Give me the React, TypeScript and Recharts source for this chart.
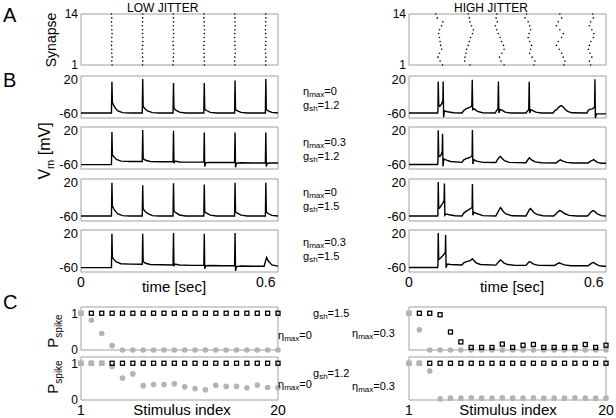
import React from 'react';
import { ComposedChart, Line, Scatter, XAxis, YAxis, ReferenceArea } from 'recharts';

const FONT = '"Liberation Sans", Arial, Helvetica, sans-serif';
const FRAME = '#a0a0a0';
const GRAY = '#b3b3b3';

// ---------- Panel A : raster ----------
const stimTimes = [0.1, 0.2, 0.3, 0.4, 0.5, 0.6];
const synapseIds = [1, 2, 3, 4, 5, 6, 7, 8, 9, 10, 11, 12, 13, 14];
const synapseTicks = [1, 14];
// jitter in ms, one row per stimulus, one value per synapse (1..14)
const lowJitterMs = [
  [1, 0, 1, 0, 0, -1, 0, 0, 1, 0, 0, -1, 0, -1],
  [0, 1, 0, 0, -1, 0, 1, 1, 0, 0, -1, 0, 0, 1],
  [-1, 0, 0, 1, 0, 0, -1, 0, 1, 0, 0, 1, 0, 0],
  [1, 1, 0, 0, -1, -1, 0, 0, 1, 1, 0, 0, -1, 0],
  [0, -1, 0, 1, 1, 0, 0, -1, 0, 0, 1, 0, 0, -1],
  [0, 0, 1, 0, -1, 0, 0, 1, 0, -1, 0, 0, 1, 0],
];
const highJitterMs = [
  [9, 1, -6, -1, 6, 3, 1, -1, -4, -1, 6, 10, -8, -13],
  [-2, -19, -18, -15, -13, -8, -4, 0, 6, 9, 3, -2, -4, -8],
  [9, -1, -6, 2, 9, 7, 1, -4, -10, -15, -20, -13, -17, -15],
  [6, 9, 0, -8, -5, -2, -8, -13, -10, -5, -8, -13, -23, -18],
  [4, 7, 1, -4, -12, -21, -15, -4, 1, -10, -21, -15, -4, -10],
  [-10, -14, -6, -12, -17, -14, -9, -1, 1, -6, -14, -10, -1, -3],
];

// ---------- Panel B : voltage traces [ms, mV] ----------
const timeTicks = [0, 0.6];
const vmTicks = [-60, 20];
const lowEta0G12: [number, number][] = [
  [0, -60], [99, -60], [100.5, 15], [102, -35], [106, -41], [112, -49], [120, -55], [135, -59], [160, -60],
  [199, -60], [200.5, 22], [202, -44], [207, -49], [216, -55], [232, -59], [255, -60],
  [299, -60], [300.5, 12], [302, -49], [308, -53], [320, -58], [340, -60],
  [399, -60], [400.5, 12], [402, -51], [408, -54], [420, -58.5], [440, -60],
  [499, -60], [500.5, 18], [502, -52], [508, -55], [520, -58.5], [540, -60],
  [599, -60], [600.5, 22], [602, -52], [608, -55], [620, -58.5], [640, -60],
];
const lowEta03G12: [number, number][] = [
  [0, -61.5], [99, -61.5], [100.5, 17], [102, -38], [106, -42], [115, -49], [130, -53], [160, -54],
  [199, -54], [200.5, 22], [202, -47], [210, -51], [225, -54], [260, -54.5],
  [299, -54.5], [300.5, 20], [302, -58], [305, -53], [320, -55], [360, -55.5],
  [399, -55.5], [400.5, 16], [402, -66], [405, -57], [420, -56], [460, -56.5],
  [499, -56.5], [500.5, 16], [502, -68], [505, -58], [520, -57], [560, -57.5],
  [599, -57.5], [600.5, 16], [602, -66], [605, -58], [620, -57.5], [640, -57.5],
];
const lowEta0G15: [number, number][] = [
  [0, -60], [99, -60], [100.5, 20], [102, -36], [106, -42], [112, -49], [120, -55], [135, -59], [160, -60],
  [199, -60], [200.5, 14], [202, -43], [207, -48], [216, -54], [232, -59], [255, -60],
  [299, -60], [300.5, 19], [302, -48], [308, -52], [320, -57.5], [340, -60],
  [399, -60], [400.5, 16], [402, -50], [408, -53], [420, -58], [440, -60],
  [499, -60], [500.5, 20], [502, -50], [508, -53], [520, -58], [540, -60],
  [599, -60], [600.5, 20], [602, -50], [608, -54], [620, -58.5], [640, -60],
];
const lowEta03G15: [number, number][] = [
  [0, -61.5], [99, -61.5], [100.5, 20], [102, -36], [106, -41], [115, -48], [130, -52], [160, -53],
  [199, -53.5], [200.5, 20], [202, -47], [210, -51], [225, -54], [260, -54.5],
  [299, -55], [300.5, 22], [302, -58], [305, -53], [320, -55], [360, -56],
  [399, -56], [400.5, 20], [402, -64], [405, -57], [420, -56.5], [460, -57],
  [499, -57], [500.5, 22], [502, -69], [505, -59], [520, -57.5], [560, -58],
  [595, -58], [600, -44], [603, -37], [608, -45], [620, -55], [640, -58],
];
const highEta0G12: [number, number][] = [
  [0, -60], [93, -60], [94, -55], [95, 16], [96.5, -40], [100, -44], [106, -38], [110, -30], [111, 16],
  [112.5, -70], [115, -55], [125, -57], [145, -59.5], [172, -60], [178, -54], [185, -50], [192, -48],
  [198, -46], [204, -44], [205.5, 20], [207, -52], [212, -50], [222, -56], [240, -59.5], [280, -60],
  [284, -55], [289, -50], [290.5, 16], [292, -60], [296, -52], [302, -53], [312, -58], [330, -60],
  [380, -60], [385, -55], [389, -52], [390.5, 15], [392, -60], [396, -52], [402, -54], [412, -58],
  [430, -60], [468, -60], [474, -54], [480, -52], [485, -47], [490, -44], [495, -42], [500, -45],
  [507, -51], [515, -56], [530, -59.5], [578, -60], [582, -54], [588, -51], [595, -50], [600, -48],
  [603, -45], [604, 21], [605.5, -72], [609, -62], [640, -62],
];
const highEta03G12: [number, number][] = [
  [0, -61], [93, -61], [94, -55], [95, 21], [96.5, -40], [100, -42], [106, -36], [108, -30], [109, 13],
  [110.5, -66], [113, -48], [120, -50], [135, -54], [172, -56], [178, -50], [186, -47], [195, -45],
  [202, -42], [205, -40], [206, 22], [207.5, -60], [211, -50], [220, -53], [240, -56], [282, -56.5],
  [287, -50], [292, -45], [297, -42], [302, -46], [310, -52], [325, -56], [380, -57], [385, -51],
  [391, -45], [398, -50], [410, -55], [430, -57], [478, -57.5], [485, -53], [492, -50], [500, -53],
  [512, -56], [535, -57.5], [582, -57.5], [590, -53], [596, -51], [600, -49], [604, -52], [612, -56],
  [625, -58], [640, -58],
];
const highEta0G15: [number, number][] = [
  [0, -60], [93, -60], [94, -55], [95, 22], [96.5, -42], [100, -40], [106, -33], [111, -28], [114, -22],
  [115, 18], [116.5, -58], [120, -55], [130, -57], [150, -59.5], [172, -60], [178, -53], [185, -49],
  [192, -46], [198, -43], [203, -41], [205, -38], [206, 17], [207.5, -58], [211, -51], [220, -54],
  [240, -59], [282, -60], [288, -52], [293, -45], [297, -40], [300, -42], [306, -49], [315, -55],
  [335, -59.5], [380, -60], [385, -53], [390, -46], [394, -42], [397, -44], [405, -51], [415, -56],
  [435, -59.5], [470, -60], [477, -55], [484, -50], [490, -47], [496, -49], [505, -54], [520, -58.5],
  [545, -60], [580, -60], [586, -55], [592, -50], [598, -47], [603, -49], [612, -55], [625, -59], [640, -60],
];
const highEta03G15: [number, number][] = [
  [0, -61], [93, -61], [94, -55], [95, 22], [96.5, -42], [100, -40], [107, -35], [113, -30], [118, -25],
  [119, 17], [120.5, -62], [124, -53], [135, -54], [172, -55], [178, -50], [186, -47], [194, -46],
  [200, -44], [206, -40], [210, -44], [218, -50], [232, -54], [282, -55.5], [288, -50], [293, -46],
  [297, -43], [301, -45], [308, -50], [320, -54], [345, -56], [380, -56], [386, -51], [391, -47],
  [396, -49], [405, -53], [420, -56], [472, -56.5], [480, -53], [488, -50], [494, -52], [505, -55],
  [525, -57], [582, -57], [589, -53], [595, -50], [600, -49], [605, -52], [615, -56], [628, -58], [640, -58],
];

// ---------- Panel C : spike probability ----------
const stimIndex = [1, 2, 3, 4, 5, 6, 7, 8, 9, 10, 11, 12, 13, 14, 15, 16, 17, 18, 19, 20];
const indexTicks = [1, 20];
const pTicks = [0, 1];
const N = null;
const cLowG15Circ = [1, 0.81, 0.45, 0.12, 0, 0, 0, 0, 0, 0, 0, 0, 0, 0, 0, 0, 0, 0, 0, 0];
const cLowG15Gray = [1, N, N, N, N, N, N, N, N, N, N, N, N, N, N, N, N, N, N, N];
const cLowG15Open = [N, 1, 1, 1, 1, 1, 1, 1, 1, 1, 1, 1, 1, 1, 1, 1, 1, 1, 1, 1];
const cHighG15Circ = [1, 0.55, 0, 0, 0, 0, 0, 0, 0, 0, 0, 0, 0, 0, 0, 0, 0, 0, 0, 0];
const cHighG15Gray = [1, N, N, N, N, N, N, N, N, N, N, N, N, N, N, N, N, N, N, N];
const cHighG15Open = [N, 1, 1, 0.96, 0.49, 0.22, 0.07, 0.07, 0.07, 0.16, 0.07, 0.13, 0.15, 0.07, 0.07, 0.07, 0.07, 0.15, 0.07, 0.13];
const cLowG12Circ = [1, 1, 1, 0.91, 0.6, 0.71, 0.39, 0.42, 0.42, 0.44, 0.36, 0.31, 0.28, 0.4, 0.37, 0.37, 0.33, 0.41, 0.34, 0.33];
const cLowG12Gray = [1, 1, 1, N, N, N, N, N, N, N, N, N, N, N, N, N, N, N, N, N];
const cLowG12Open = [N, N, N, 1, 1, 1, 1, 1, 1, 1, 1, 1, 1, 1, 1, 1, 1, 1, 1, 1];
const cHighG12Circ = [1, 1, 0.79, 0.03, 0.05, 0.05, 0.06, 0.05, 0.05, 0.06, 0.05, 0.05, 0.06, 0.05, 0.05, 0.05, 0.06, 0.05, 0.05, 0.05];
const cHighG12Gray = [1, 1, N, N, N, N, N, N, N, N, N, N, N, N, N, N, N, N, N, N];
const cHighG12Open = [N, N, 1, 1, 1, 1, 1, 1, 1, 1, 1, 1, 1, 1, 1, 1, 1, 1, 1, 1];

// ---------- helpers ----------
const rasterPts = (jit: number[][]) =>
  stimTimes.flatMap((t, i) => synapseIds.map((s, j) => ({ x: t + jit[i][j] / 1000, y: s })));
const tracePts = (tr: [number, number][]) => tr.map(([ms, v]) => ({ x: ms / 1000, y: v }));
const idxPts = (vals: (number | null)[]) =>
  vals.map((v, i) => (v == null ? null : { x: stimIndex[i], y: v })).filter(Boolean) as { x: number; y: number }[];

const RasterDot = (p: any) => <circle cx={p.cx} cy={p.cy} r={0.8} fill="#000" />;
const GrayDot = (p: any) => <circle cx={p.cx} cy={p.cy} r={2.8} fill={GRAY} />;
const GraySq = (p: any) => <rect x={p.cx - 2.8} y={p.cy - 2.8} width={5.6} height={5.6} fill={GRAY} />;
const OpenSq = (p: any) => (
  <rect x={p.cx - 2} y={p.cy - 2} width={4} height={4} fill="none" stroke="#000" strokeWidth={1.3} />
);

const YW = 40;

function Panel(props: any) {
  const { left, top, w, h, xDomain, yDomain, yTicks, xTicks, data, children, fs = 13 } = props;
  const MT = 10, MR = 14, MB = 10;
  const xh = xTicks ? 22 : 0;
  const yTickStyle = { fontSize: fs, fill: '#000', fontFamily: FONT };
  const xTickStyle = { fontSize: 14, fill: '#000', fontFamily: FONT };
  return (
    <div style={{ position: 'absolute', left: left - YW, top: top - MT }}>
      <ComposedChart
        width={YW + w + MR}
        height={MT + h + xh + MB}
        data={data}
        margin={{ top: MT, right: MR, bottom: MB, left: 0 }}
      >
        <XAxis
          type="number"
          dataKey="x"
          domain={xDomain}
          ticks={xTicks || []}
          hide={!xTicks}
          height={xh}
          axisLine={false}
          tickLine={false}
          tickSize={0}
          tickMargin={5}
          interval={0}
          tick={xTickStyle}
        />
        <YAxis
          type="number"
          dataKey="y"
          domain={yDomain}
          ticks={yTicks || []}
          width={YW}
          axisLine={false}
          tickLine={false}
          tickSize={0}
          tickMargin={3}
          interval={0}
          tick={yTicks ? yTickStyle : false}
        />
        <ReferenceArea
          x1={xDomain[0]}
          x2={xDomain[1]}
          y1={yDomain[0]}
          y2={yDomain[1]}
          fill="none"
          stroke={FRAME}
          strokeWidth={1}
          ifOverflow="visible"
        />
        {children}
      </ComposedChart>
    </div>
  );
}

function Txt(props: any) {
  const { x, y, size = 11, center = false, rotate = false, children } = props;
  const transform = rotate
    ? 'translate(-50%,-50%) rotate(-90deg)'
    : `translate(${center ? '-50%' : '0'},-50%)`;
  return (
    <div
      style={{
        position: 'absolute',
        left: x,
        top: y,
        fontSize: size,
        lineHeight: 1,
        whiteSpace: 'nowrap',
        transform,
        color: '#000',
      }}
    >
      {children}
    </div>
  );
}
const Sub = (props: any) => (
  <span style={{ fontSize: props.size || 8, position: 'relative', top: props.drop ?? 2 }}>{props.children}</span>
);
const Eta = (props: any) => (
  <>
    η<Sub>max</Sub>={props.v}
  </>
);
const Gsh = (props: any) => (
  <>
    g<Sub>sh</Sub>={props.v}
  </>
);

const LX = 81;
const RX = 409;
const PW = 197;
const TD: [number, number] = [0, 0.64];
const VD: [number, number] = [-72, 29];
const CD: [number, number] = [0, 1.17];
const ID: [number, number] = [1, 20];

const traceLine = (
  <Line dataKey="y" type="linear" stroke="#000" strokeWidth={1.4} dot={false} isAnimationActive={false} />
);

function CPanel(props: any) {
  const { left, top, circ, gray, open, yTicks, xTicks } = props;
  return (
    <Panel left={left} top={top} w={PW} h={43} xDomain={ID} yDomain={CD} yTicks={yTicks} xTicks={xTicks} fs={12}>
      <Scatter data={idxPts(circ)} dataKey="y" shape={GrayDot} isAnimationActive={false} />
      <Scatter data={idxPts(gray)} dataKey="y" shape={GraySq} isAnimationActive={false} />
      <Scatter data={idxPts(open)} dataKey="y" shape={OpenSq} isAnimationActive={false} />
    </Panel>
  );
}

const bTops = [76, 127, 179, 230];
const leftTraces = [lowEta0G12, lowEta03G12, lowEta0G15, lowEta03G15];
const rightTraces = [highEta0G12, highEta03G12, highEta0G15, highEta03G15];

export default function App() {
  return (
    <div
      style={{
        position: 'absolute',
        left: 0,
        top: 0,
        width: 616,
        height: 418,
        background: '#fff',
        fontFamily: FONT,
        color: '#000',
        overflow: 'hidden',
      }}
    >
      {/* Panel A */}
      <Panel left={LX} top={14} w={PW} h={51} xDomain={TD} yDomain={[1, 14]} yTicks={synapseTicks} fs={12}>
        <Scatter data={rasterPts(lowJitterMs)} dataKey="y" shape={RasterDot} isAnimationActive={false} />
      </Panel>
      <Panel left={RX} top={14} w={PW} h={51} xDomain={TD} yDomain={[1, 14]} yTicks={synapseTicks} fs={12}>
        <Scatter data={rasterPts(highJitterMs)} dataKey="y" shape={RasterDot} isAnimationActive={false} />
      </Panel>

      {/* Panel B */}
      {bTops.map((t, i) => (
        <Panel
          key={'l' + i}
          left={LX}
          top={t}
          w={PW}
          h={42}
          xDomain={TD}
          yDomain={VD}
          yTicks={vmTicks}
          xTicks={i === 3 ? timeTicks : undefined}
          data={tracePts(leftTraces[i])}
        >
          {traceLine}
        </Panel>
      ))}
      {bTops.map((t, i) => (
        <Panel
          key={'r' + i}
          left={RX}
          top={t}
          w={PW}
          h={42}
          xDomain={TD}
          yDomain={VD}
          yTicks={vmTicks}
          xTicks={i === 3 ? timeTicks : undefined}
          data={tracePts(rightTraces[i])}
        >
          {traceLine}
        </Panel>
      ))}

      {/* Panel C */}
      <CPanel left={LX} top={307} circ={cLowG15Circ} gray={cLowG15Gray} open={cLowG15Open} yTicks={pTicks} />
      <CPanel left={RX} top={307} circ={cHighG15Circ} gray={cHighG15Gray} open={cHighG15Open} />
      <CPanel left={LX} top={357} circ={cLowG12Circ} gray={cLowG12Gray} open={cLowG12Open} yTicks={pTicks} xTicks={indexTicks} />
      <CPanel left={RX} top={357} circ={cHighG12Circ} gray={cHighG12Gray} open={cHighG12Open} xTicks={indexTicks} />

      {/* letters & titles */}
      <Txt x={3} y={15} size={20}>A</Txt>
      <Txt x={3} y={80} size={20}>B</Txt>
      <Txt x={3} y={302} size={20}>C</Txt>
      <Txt x={127} y={8} size={12}>LOW JITTER</Txt>
      <Txt x={454} y={8} size={12}>HIGH JITTER</Txt>

      {/* axis titles */}
      <Txt x={51} y={40} size={14} rotate>Synapse</Txt>
      <Txt x={45} y={151} size={16} rotate>
        V<Sub size={11} drop={4}>m</Sub> [mV]
      </Txt>
      <Txt x={52} y={331} size={15} rotate>
        P<Sub size={10} drop={4}>spike</Sub>
      </Txt>
      <Txt x={52} y={377} size={15} rotate>
        P<Sub size={10} drop={4}>spike</Sub>
      </Txt>
      <Txt x={174} y={286} size={15} center>time [sec]</Txt>
      <Txt x={512} y={286} size={15} center>time [sec]</Txt>
      <Txt x={182} y={409} size={15} center>Stimulus index</Txt>
      <Txt x={508} y={409} size={15} center>Stimulus index</Txt>

      {/* B annotations */}
      <Txt x={303} y={91}><Eta v="0" /></Txt>
      <Txt x={303} y={104.5}><Gsh v="1.2" /></Txt>
      <Txt x={303} y={142}><Eta v="0.3" /></Txt>
      <Txt x={303} y={155.5}><Gsh v="1.2" /></Txt>
      <Txt x={303} y={192}><Eta v="0" /></Txt>
      <Txt x={303} y={205.5}><Gsh v="1.5" /></Txt>
      <Txt x={303} y={242}><Eta v="0.3" /></Txt>
      <Txt x={303} y={255.5}><Gsh v="1.5" /></Txt>

      {/* C annotations */}
      <Txt x={313} y={313}><Gsh v="1.5" /></Txt>
      <Txt x={278} y={335}><Eta v="0" /></Txt>
      <Txt x={352} y={333}><Eta v="0.3" /></Txt>
      <Txt x={313} y={373}><Gsh v="1.2" /></Txt>
      <Txt x={278} y={384}><Eta v="0" /></Txt>
      <Txt x={352} y={386}><Eta v="0.3" /></Txt>
    </div>
  );
}
